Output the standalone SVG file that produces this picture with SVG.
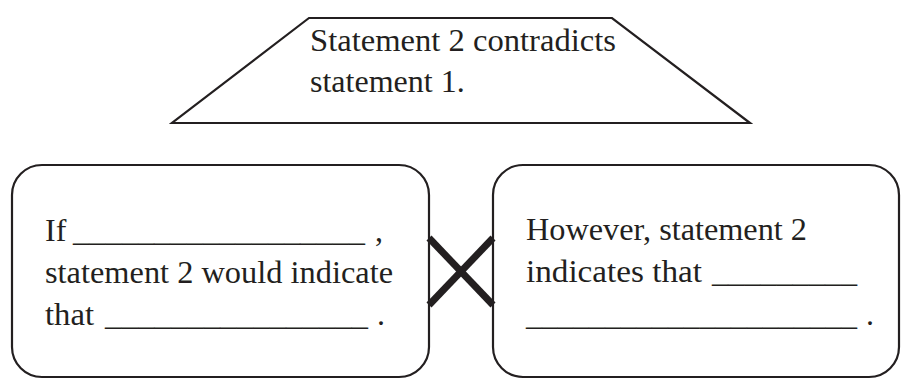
<svg xmlns="http://www.w3.org/2000/svg" width="901" height="379" viewBox="0 0 901 379">
  <style>
    .shape { fill: #ffffff; stroke: #231f20; stroke-width: 2.2; }
    .txt { font-family: "Liberation Serif", "Times New Roman", serif; font-size: 32px; fill: #231f20; }
    .cross { stroke: #231f20; stroke-width: 7; stroke-linecap: butt; fill: none; }
  </style>
  <rect x="0" y="0" width="901" height="379" fill="#ffffff"/>

  <g id="node-contradiction">
    <polygon class="shape" points="309,18 612,18 750,123 172,123"/>
    <text class="txt" x="310" y="51" textLength="306" lengthAdjust="spacingAndGlyphs">Statement 2 contradicts</text>
    <text class="txt" x="310" y="92">statement 1.</text>
  </g>

  <g id="node-if">
    <rect class="shape" x="12" y="165" width="417" height="212" rx="30" ry="30"/>
    <text class="txt" y="241"><tspan x="45">If</tspan><tspan x="73" textLength="292" lengthAdjust="spacingAndGlyphs">__________________</tspan><tspan x="375">,</tspan></text>
    <text class="txt" x="45" y="283" textLength="348" lengthAdjust="spacingAndGlyphs">statement 2 would indicate</text>
    <text class="txt" y="325"><tspan x="45" textLength="49" lengthAdjust="spacingAndGlyphs">that</tspan><tspan x="105" textLength="263" lengthAdjust="spacingAndGlyphs">________________</tspan><tspan x="377">.</tspan></text>
  </g>

  <g id="node-however">
    <rect class="shape" x="493" y="165" width="406" height="212" rx="30" ry="30"/>
    <text class="txt" x="526" y="240" textLength="281" lengthAdjust="spacingAndGlyphs">However, statement 2</text>
    <text class="txt" y="282"><tspan x="526" textLength="176" lengthAdjust="spacingAndGlyphs">indicates that</tspan><tspan x="712" textLength="145" lengthAdjust="spacingAndGlyphs">_________</tspan></text>
    <text class="txt" y="325"><tspan x="526" textLength="331" lengthAdjust="spacingAndGlyphs">_____________________</tspan><tspan x="866">.</tspan></text>
  </g>

  <g id="connectors">
    <line class="cross" x1="429" y1="238" x2="493" y2="305"/>
    <line class="cross" x1="429" y1="305" x2="493" y2="238"/>
  </g>
</svg>
